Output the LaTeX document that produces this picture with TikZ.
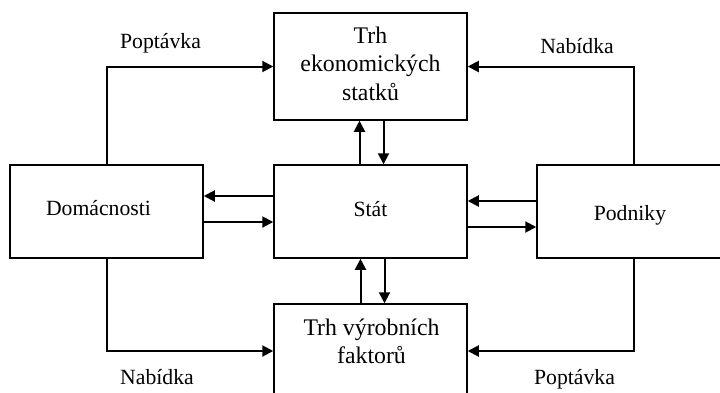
\documentclass[tikz,border=0pt]{standalone}
\usepackage{fontspec}
\setmainfont{Liberation Serif}
\usetikzlibrary{arrows.meta}
\begin{document}
\begin{tikzpicture}[x=1pt,y=-1pt,
  box/.style={draw, line width=1.5pt, inner sep=0pt, minimum width=193pt},
  lbl/.style={font=\fontsize{21.7}{26}\selectfont, inner sep=0pt, anchor=base},
  mkt/.style={font=\fontsize{23.8}{28.5}\selectfont, inner sep=0pt, align=center, anchor=north},
  arr/.style={line width=2pt, -{Triangle[length=11pt,width=11pt]}}]
\useasboundingbox[fill=white] (0,0) rectangle (720,392);

% boxes
\node[box, minimum height=107pt] (trhE) at (370.5,66.5) {};
\node[box, minimum height=93pt] (dom) at (106.5,211.5) {};
\node[box, minimum height=93pt] (stat) at (370.5,211.5) {};
\node[box, minimum height=93pt] (pod) at (633.5,211.5) {};
\node[box, minimum height=94pt] (trhF) at (370.5,351) {};

% box texts
\node[mkt] (tE) at (370.5,26.7) {Trh\\ekonomických\\statků};
\node[lbl] (tD) at (98.5,215) {Domácnosti};
\node[lbl] (tS) at (370.5,216) {Stát};
\node[lbl] (tP) at (630,220) {Podniky};
\node[mkt] (tF) at (371.5,318.5) {Trh výrobních\\faktorů};

% flows around the circuit
\draw[arr] (dom.north) |- (trhE.west);
\draw[arr] (pod.north) |- (trhE.east);
\draw[arr] (dom.south) |- (trhF.west);
\draw[arr] (pod.south) |- (trhF.east);

% flows to and from the state
\draw[arr] ([xshift=-11pt]stat.north) -- ([xshift=-11pt]trhE.south);
\draw[arr] ([xshift=13pt]trhE.south) -- ([xshift=13pt]stat.north);
\draw[arr] ([xshift=-10pt]trhF.north) -- ([xshift=-10pt]stat.south);
\draw[arr] ([xshift=14pt]stat.south) -- ([xshift=14pt]trhF.north);
\draw[arr] ([yshift=15.5pt]stat.west) -- ([yshift=15.5pt]dom.east);
\draw[arr] ([yshift=-10.5pt]dom.east) -- ([yshift=-10.5pt]stat.west);
\draw[arr] ([yshift=10.5pt]pod.west) -- ([yshift=10.5pt]stat.east);
\draw[arr] ([yshift=-15.5pt]stat.east) -- ([yshift=-15.5pt]pod.west);

% flow labels
\node[lbl] (l1) at (160.5,48) {Poptávka};
\node[lbl] (l2) at (577,53) {Nabídka};
\node[lbl] (l3) at (157,384) {Nabídka};
\node[lbl] (l4) at (574.5,384) {Poptávka};
\end{tikzpicture}
\end{document}
